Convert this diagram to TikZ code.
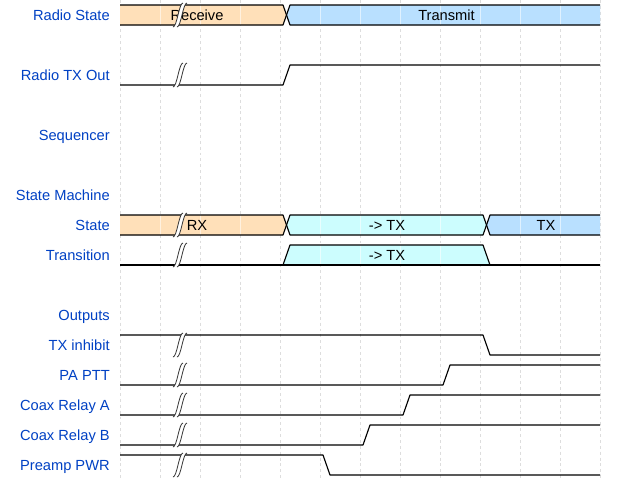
\documentclass[tikz,border=0pt]{standalone}
\usepackage{fontspec}
\setmainfont{Liberation Sans}
\definecolor{wdorange}{HTML}{FFE0B9}
\definecolor{wdblue}{HTML}{B9E0FF}
\definecolor{wdcyan}{HTML}{CCFDFE}
\definecolor{wdlabel}{HTML}{0041C4}
\definecolor{wdgrid}{HTML}{DDDDDD}
\newcommand{\wdfont}{\fontsize{11pt}{13pt}\selectfont}
\newcommand{\gapmark}[2]{%
  \fill[white] (#1-7,#2+12) .. controls (#1-3,#2+12) and (#1-1,#2-12) .. (#1+3,#2-12)
    -- (#1+7,#2-12) .. controls (#1+3,#2-12) and (#1+1,#2+12) .. (#1-3,#2+12) -- cycle;
  \draw[gapline] (#1-7,#2+12) .. controls (#1-3,#2+12) and (#1-1,#2-12) .. (#1+3,#2-12);
  \draw[gapline] (#1-3,#2+12) .. controls (#1+1,#2+12) and (#1+3,#2-12) .. (#1+7,#2-12);
}
\tikzset{
  sig/.style={draw=black, line width=0.85pt, line join=round},
  gapline/.style={draw=black!80, line width=0.6pt},
  gridline/.style={draw=wdgrid, line width=0.6pt, dash pattern=on 2.2pt off 2.2pt},
  gridin/.style={draw=white, opacity=0.55, line width=0.6pt},
  lbl/.style={anchor=base east, text=wdlabel, font=\wdfont, inner sep=0pt},
  dtxt/.style={anchor=base, text=black, font=\wdfont, inner sep=0pt}
}
\begin{document}
\begin{tikzpicture}[x=0.75pt,y=-0.75pt]
\useasboundingbox (0,0) rectangle (620,480);
\fill[white] (0,0) rectangle (620,480);
% grid
\foreach \k in {0,...,12} { \draw[gridline] (120+40*\k,0) -- (120+40*\k,480); }

% labels
\node[lbl] (lRS) at (110,20.5) {Radio State};
\node[lbl] (lTX) at (110,80.5) {Radio TX Out};
\node[lbl] (lSeq) at (110,140.5) {Sequencer};
\node[lbl] (lSM) at (110,200.5) {State Machine};
\node[lbl] (lSt) at (110,230.5) {State};
\node[lbl] (lTr) at (110,260.5) {Transition};
\node[lbl] (lOut) at (110,320.5) {Outputs};
\node[lbl] (lInh) at (110,350.5) {TX inhibit};
\node[lbl] (lPA) at (110,380.5) {PA PTT};
\node[lbl] (lCA) at (110,410.5) {Coax Relay A};
\node[lbl] (lCB) at (110,440.5) {Coax Relay B};
\node[lbl] (lPre) at (110,470.5) {Preamp PWR};

% ---- Radio State (data) 5..25
\fill[wdorange] (120,5) -- (283,5) -- (286.5,15) -- (283,25) -- (120,25) -- cycle;
\fill[wdblue] (286.5,15) -- (290,5) -- (600,5) -- (600,25) -- (290,25) -- cycle;
\foreach \x in {160,200,240,320,360,400,440,480,520,560} { \draw[gridin] (\x,5) -- (\x,25); }
\draw[sig] (120,5) -- (283,5) -- (290,25) -- (600,25);
\draw[sig] (120,25) -- (283,25) -- (290,5) -- (600,5);
\node[dtxt] (tRec) at (197,20.5) {Receive};
\node[dtxt] (tTrm) at (446.5,20.5) {Transmit};
\gapmark{180}{15}

% ---- Radio TX Out 65..85
\draw[sig] (120,85) -- (283,85) -- (290,65) -- (600,65);
\gapmark{180}{75}

% ---- State (data) 215..235
\fill[wdorange] (120,215) -- (283,215) -- (286.5,225) -- (283,235) -- (120,235) -- cycle;
\fill[wdcyan] (286.5,225) -- (290,215) -- (483,215) -- (486.5,225) -- (483,235) -- (290,235) -- cycle;
\fill[wdblue] (486.5,225) -- (490,215) -- (600,215) -- (600,235) -- (490,235) -- cycle;
\foreach \x in {160,200,240,320,360,400,440,520,560} { \draw[gridin] (\x,215) -- (\x,235); }
\draw[sig] (120,215) -- (283,215) -- (290,235) -- (483,235) -- (490,215) -- (600,215);
\draw[sig] (120,235) -- (283,235) -- (290,215) -- (483,215) -- (490,235) -- (600,235);
\node[dtxt] (tRX) at (197,230.5) {RX};
\node[dtxt] (tToTX) at (387,230.5) {-> TX};
\node[dtxt] (tTX) at (546,230.5) {TX};
\gapmark{180}{225}

% ---- Transition 245..265
\fill[wdcyan] (283,265) -- (290,245) -- (483,245) -- (490,265) -- cycle;
\foreach \x in {320,360,400,440} { \draw[gridin] (\x,245) -- (\x,265); }
\draw[sig] (120,265) -- (600,265);
\draw[sig] (283,265) -- (290,245) -- (483,245) -- (490,265);
\node[dtxt] (tTr) at (387,260.5) {-> TX};
\gapmark{180}{255}

% ---- TX inhibit 335..355
\draw[sig] (120,335) -- (483,335) -- (490,355) -- (600,355);
\gapmark{180}{345}
% ---- PA PTT 365..385
\draw[sig] (120,385) -- (443,385) -- (450,365) -- (600,365);
\gapmark{180}{375}
% ---- Coax Relay A 395..415
\draw[sig] (120,415) -- (403,415) -- (410,395) -- (600,395);
\gapmark{180}{405}
% ---- Coax Relay B 425..445
\draw[sig] (120,445) -- (363,445) -- (370,425) -- (600,425);
\gapmark{180}{435}
% ---- Preamp PWR 455..475
\draw[sig] (120,455) -- (323,455) -- (330,475) -- (600,475);
\gapmark{180}{465}
\end{tikzpicture}
\end{document}
